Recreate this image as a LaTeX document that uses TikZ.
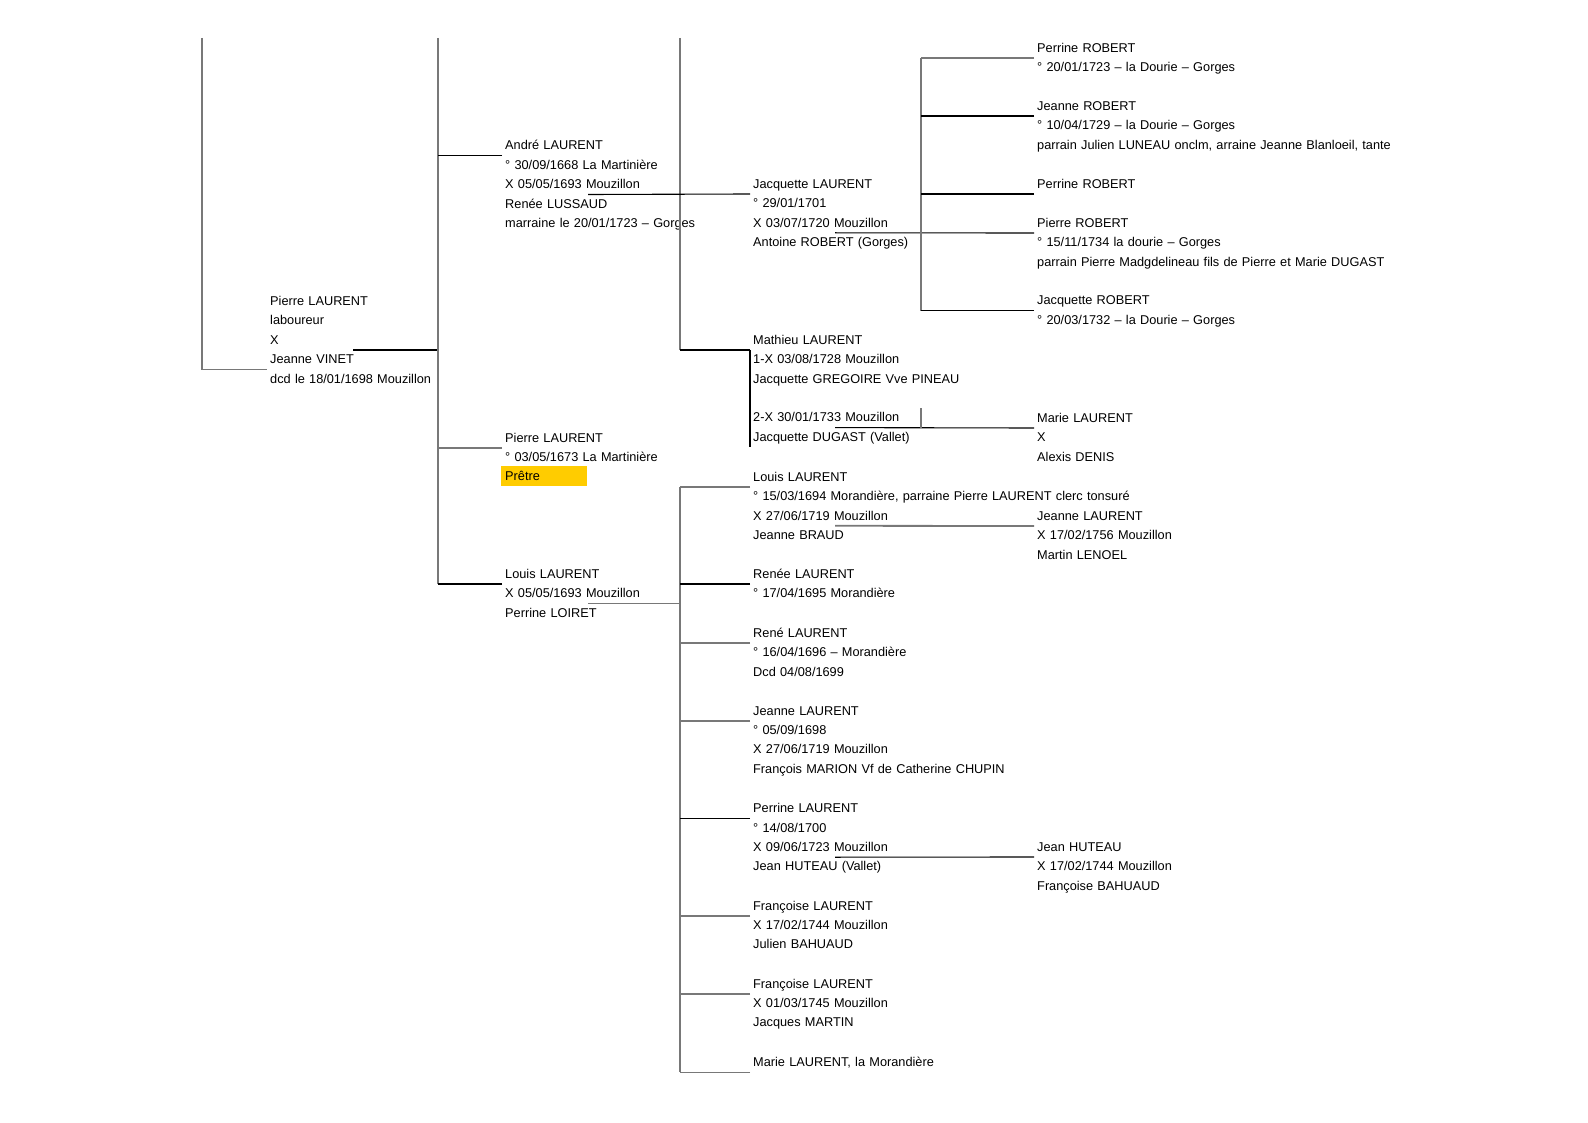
\documentclass[tikz,border=0pt]{standalone}
\usepackage{fontspec}
\setmainfont{Liberation Sans}
\usetikzlibrary{calc,backgrounds}
\definecolor{liengr}{HTML}{787878}
\definecolor{pretrejn}{HTML}{FFCC00}

\begin{document}
\begin{tikzpicture}[x=1pt,y=-1pt,font=\fontsize{12.75}{19.4}\selectfont,
  pers/.style={anchor=base west,align=left,text width=420pt,inner xsep=3pt,inner ysep=0pt},
  lien/.style={black,line width=1.1pt},
  liengris/.style={liengr,line width=1.8pt}]
\useasboundingbox (0,0) rectangle (1588,1123);
\coordinate (h0) at (202,38);
\coordinate (h1) at (438,38);
\coordinate (h2) at (680,38);

\node[pers] (pere) at (267,305.5) {Pierre LAURENT\\laboureur\\X\\Jeanne VINET\\dcd le 18/01/1698 Mouzillon};

\node[pers] (andre) at (502,150) {André LAURENT\\° 30/09/1668 La Martinière\\X 05/05/1693 Mouzillon\\Renée LUSSAUD\\marraine le 20/01/1723 – Gorges};
\node[pers] (pretre) at (502,442) {Pierre LAURENT\\° 03/05/1673 La Martinière\\Prêtre};
\node[pers] (louisp) at (502,578.3) {Louis LAURENT\\X 05/05/1693 Mouzillon\\Perrine LOIRET};

\node[pers] (jacquette) at (750,188.3) {Jacquette LAURENT\\° 29/01/1701\\X 03/07/1720 Mouzillon\\Antoine ROBERT (Gorges)};
\node[pers] (mathieu) at (750,344.3) {Mathieu LAURENT\\1-X 03/08/1728 Mouzillon\\Jacquette GREGOIRE Vve PINEAU\\~\\2-X 30/01/1733 Mouzillon\\Jacquette DUGAST (Vallet)};
\node[pers] (louisf) at (750,481.3) {Louis LAURENT\\° 15/03/1694 Morandière, parraine Pierre LAURENT clerc tonsuré\\X 27/06/1719 Mouzillon\\Jeanne BRAUD};
\node[pers] (renee) at (750,578.3) {Renée LAURENT\\° 17/04/1695 Morandière};
\node[pers] (rene) at (750,637.3) {René LAURENT\\° 16/04/1696 – Morandière\\Dcd 04/08/1699};
\node[pers] (jeanne) at (750,715) {Jeanne LAURENT\\° 05/09/1698\\X 27/06/1719 Mouzillon\\François MARION Vf de Catherine CHUPIN};
\node[pers] (perrine) at (750,812.7) {Perrine LAURENT\\° 14/08/1700\\X 09/06/1723 Mouzillon\\Jean HUTEAU (Vallet)};
\node[pers] (francoise) at (750,910) {Françoise LAURENT\\X 17/02/1744 Mouzillon\\Julien BAHUAUD};
\node[pers] (francoiseb) at (750,988) {Françoise LAURENT\\X 01/03/1745 Mouzillon\\Jacques MARTIN};
\node[pers] (marie) at (750,1066.7) {Marie LAURENT, la Morandière};

\node[pers] (perrineR) at (1034,52.3) {Perrine ROBERT\\° 20/01/1723 – la Dourie – Gorges};
\node[pers] (jeanneR) at (1034,110.3) {Jeanne ROBERT\\° 10/04/1729 – la Dourie – Gorges\\parrain Julien LUNEAU onclm, arraine Jeanne Blanloeil, tante};
\node[pers] (perrineRb) at (1034,188.3) {Perrine ROBERT};
\node[pers] (pierreR) at (1034,227.3) {Pierre ROBERT\\° 15/11/1734 la dourie – Gorges\\parrain Pierre Madgdelineau fils de Pierre et Marie DUGAST};
\node[pers] (jacquetteR) at (1034,305) {Jacquette ROBERT\\° 20/03/1732 – la Dourie – Gorges};
\node[pers] (marieL) at (1034,422.3) {Marie LAURENT\\X\\Alexis DENIS};
\node[pers] (jeanneL) at (1034,520.3) {Jeanne LAURENT\\X 17/02/1756 Mouzillon\\Martin LENOEL};
\node[pers] (jean) at (1034,851.3) {Jean HUTEAU\\X 17/02/1744 Mouzillon\\Françoise BAHUAUD};

\begin{scope}[on background layer]
\fill[pretrejn] ($(pretre.base west)+(-1,24)$) rectangle +(86,20);
\end{scope}

% lignes : branche sous la 1re ligne du nom, mariage sous la ligne X
\draw[liengris] (h0) |- ($(pere.base west)+(0,63.9)$);
\draw[lien] ($(pere.base west)+(86,44.5)$) -- +(85,0);
\draw[liengris] (h1) -- ($(louisp.base west)+(-64,5.7)$);
\draw[lien] ($(andre.base west)+(0,5.7)$) -- +(-64,0);
\draw[liengris] ($(pretre.base west)+(0,5.7)$) -- +(-64,0);
\draw[lien] ($(louisp.base west)+(0,5.7)$) -- +(-64,0);

\draw[liengris] (h2) -- ($(mathieu.base west)+(-70,5.7)$);
\draw[lien] ($(andre.base west)+(86,44.5)$) -- ($(jacquette.base west)+(0,5.7)$);
\draw[lien] ($(mathieu.base west)+(0,5.7)$) -- +(-70,0);
\draw[lien] ($(mathieu.base west)+(0,5.7)$) -- +(0,97.4);

\draw[liengris] ($(louisp.base west)+(86,25.1)$) -- +(92,0);
\draw[liengris] ($(louisf.base west)+(-70,5.7)$) -- ($(marie.base west)+(-70,5.7)$);
\draw[liengris] ($(louisf.base west)+(0,5.7)$) -- +(-70,0);
\draw[lien] ($(renee.base west)+(0,5.7)$) -- +(-70,0);
\draw[liengris] ($(rene.base west)+(0,5.7)$) -- +(-70,0);
\draw[liengris] ($(jeanne.base west)+(0,5.7)$) -- +(-70,0);
\draw[lien] ($(perrine.base west)+(0,5.7)$) -- +(-70,0);
\draw[liengris] ($(francoise.base west)+(0,5.7)$) -- +(-70,0);
\draw[liengris] ($(francoiseb.base west)+(0,5.7)$) -- +(-70,0);
\draw[liengris] ($(marie.base west)+(0,5.7)$) -- +(-70,0);

\draw[lien] ($(jacquette.base west)+(85,44.5)$) -- ($(pierreR.base west)+(0,5.7)$);
\draw[liengris] ($(perrineR.base west)+(-113,5.7)$) -- ($(jacquetteR.base west)+(-113,5.7)$);
\draw[liengris] ($(perrineR.base west)+(0,5.7)$) -- +(-113,0);
\draw[lien] ($(jeanneR.base west)+(0,5.7)$) -- +(-113,0);
\draw[lien] ($(perrineRb.base west)+(0,5.7)$) -- +(-113,0);
\draw[lien] ($(jacquetteR.base west)+(0,5.7)$) -- +(-113,0);

\draw[lien] ($(mathieu.base west)+(85,83.3)$) -- ($(marieL.base west)+(0,5.7)$);
\draw[liengris] ($(marieL.base west)+(-113,5.7)$) -- +(0,-20);
\draw[liengris] ($(louisf.base west)+(85,44.5)$) -- ($(jeanneL.base west)+(0,5.7)$);
\draw[lien] ($(perrine.base west)+(85,44.5)$) -- ($(jean.base west)+(0,5.7)$);
\end{tikzpicture}
\end{document}
